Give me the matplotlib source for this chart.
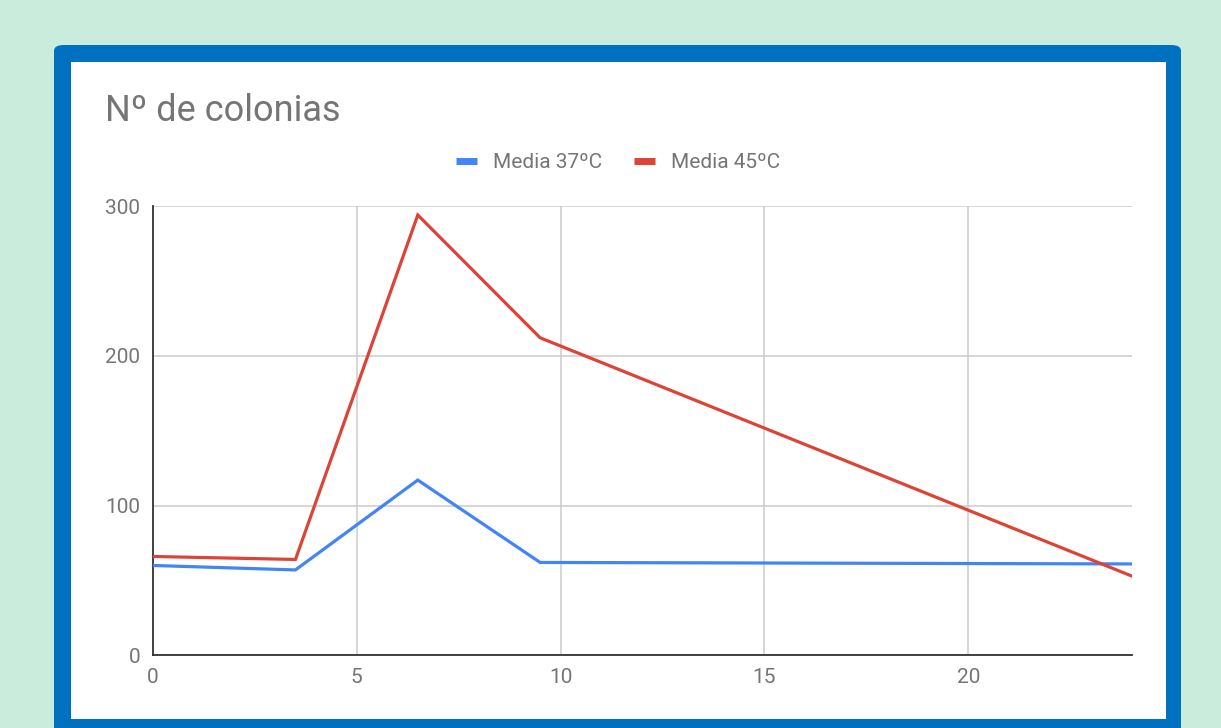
import matplotlib.pyplot as plt
from matplotlib.patches import FancyBboxPatch, Rectangle
from matplotlib.lines import Line2D

# ---------------------------------------------------------
# DATOS
# ---------------------------------------------------------
horas = [0, 3.5, 6.5, 9.5, 24]
media_37 = [60, 57, 117, 62, 61]
media_45 = [66, 64, 294, 212, 53]

nombres = ["Media 37ºC", "Media 45ºC"]
colores = ["#4285F4", "#DB4437"]

plt.rcParams["font.family"] = ["Roboto", "DejaVu Sans"]

gris_texto = "#757575"

# ---------------------------------------------------------
# FIGURA Y MARCO
# ---------------------------------------------------------
W, H = 1221, 728
fig = plt.figure(figsize=(W / 100, H / 100), dpi=100)
fig.patch.set_facecolor("#c9ecdc")

marco = FancyBboxPatch(
    (54 / W, -20 / H), (1181 - 54) / W, (H - 45 + 20) / H,
    boxstyle="round,pad=0,rounding_size=0.008",
    transform=fig.transFigure, facecolor="#0070c0", edgecolor="none",
    zorder=-2,
)
fig.patches.append(marco)

fondo = Rectangle(
    (70.5 / W, (H - 719) / H), (1165.5 - 70.5) / W, (719 - 62) / H,
    transform=fig.transFigure, facecolor="white", edgecolor="none",
    zorder=-1,
)
fig.patches.append(fondo)

fig.text(105 / W, 1 - 111 / H, "Nº de colonias", fontsize=26,
         color=gris_texto, va="center", ha="left")

# ---------------------------------------------------------
# GRÁFICO
# ---------------------------------------------------------
ax = fig.add_axes([152.7 / W, (H - 655.3) / H,
                   (1131.5 - 152.7) / W, (655.3 - 206) / H])
ax.set_facecolor("white")

ax.plot(horas, media_37, color=colores[0], lw=2.3, solid_joinstyle="miter", zorder=3)
ax.plot(horas, media_45, color=colores[1], lw=2.3, solid_joinstyle="miter", zorder=4)

ax.set_xlim(0, 24)
ax.set_ylim(0, 300)
ax.set_xticks([0, 5, 10, 15, 20])
ax.set_yticks([0, 100, 200, 300])

ax.grid(True, color="#cccccc", lw=1.1)
ax.set_axisbelow(True)

for lado in ["top", "right"]:
    ax.spines[lado].set_visible(False)
ax.spines["left"].set_color("#333333")
ax.spines["bottom"].set_color("#333333")
ax.spines["left"].set_linewidth(1.3)
ax.spines["bottom"].set_linewidth(1.3)

ax.tick_params(length=0, labelsize=15, colors=gris_texto)
ax.tick_params(axis="y", pad=9)
ax.tick_params(axis="x", pad=9)

handles = [Line2D([], [], color=c, lw=5, solid_capstyle="butt") for c in colores]
ax.legend(handles, nombres, loc="center", bbox_to_anchor=(0.4755, 1.096),
          ncol=2, frameon=False, fontsize=15, handlelength=1.0,
          handletextpad=0.8, columnspacing=1.5, labelcolor=gris_texto)

plt.savefig("out.png", dpi=100, facecolor=fig.get_facecolor())
